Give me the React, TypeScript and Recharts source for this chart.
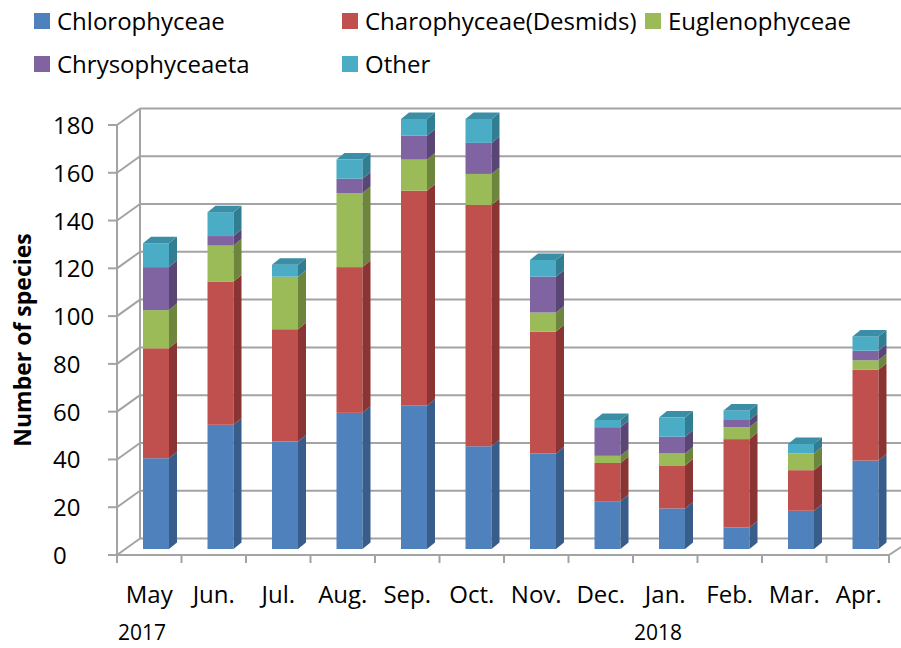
import React from 'react';
import { BarChart, Bar, XAxis, YAxis, CartesianGrid } from 'recharts';

const months = ['May', 'Jun.', 'Jul.', 'Aug.', 'Sep.', 'Oct.', 'Nov.', 'Dec.', 'Jan.', 'Feb.', 'Mar.', 'Apr.'];
const yearLabels = ['2017', '', '', '', '', '', '', '', '2018', '', '', ''];
const chlorophyceae = [38, 52, 45, 57, 60, 43, 40, 20, 17, 9, 16, 37];
const charophyceae = [46, 60, 47, 61, 90, 101, 51, 16, 18, 37, 17, 38];
const euglenophyceae = [16, 15, 22, 31, 13, 13, 8, 3, 5, 5, 7, 4];
const chrysophyceaeta = [18, 4, 0, 6, 10, 13, 15, 12, 7, 3, 0, 4];
const other = [10, 10, 5, 8, 7, 10, 7, 3, 8, 4, 4, 6];
const yTicks = [0, 20, 40, 60, 80, 100, 120, 140, 160, 180];

const series = [
  { key: 'chlorophyceae', name: 'Chlorophyceae', front: '#4f81bd', side: '#385d8a', top: '#6d95c8' },
  { key: 'charophyceae', name: 'Charophyceae(Desmids)', front: '#c0504d', side: '#8a3533', top: '#cf6f6c' },
  { key: 'euglenophyceae', name: 'Euglenophyceae', front: '#9bbb59', side: '#6d853d', top: '#afc97a' },
  { key: 'chrysophyceaeta', name: 'Chrysophyceaeta', front: '#8064a2', side: '#5a4675', top: '#9780b4' },
  { key: 'other', name: 'Other', front: '#4bacc6', side: '#317d91', top: '#3a8fa6' },
];

const data = months.map((m, i) => ({
  month: m,
  year: yearLabels[i],
  chlorophyceae: chlorophyceae[i],
  charophyceae: charophyceae[i],
  euglenophyceae: euglenophyceae[i],
  chrysophyceaeta: chrysophyceaeta[i],
  other: other[i],
}));

const FONT = '"Open Sans", "Noto Sans", sans-serif';
const GRID = '#a3a3a3';
const W = 901;
const H = 648;
const PLOT_LEFT = 124;
const PLOT_RIGHT = 898;
const BAND = (PLOT_RIGHT - PLOT_LEFT) / months.length;
// 3d offsets: front axis plane / back wall relative to the bar plane
const FRONT_DX = 7;
const FRONT_DY = 6;
const BACK_DX = 16;
const BACK_DY = 10.5;
const DEPTH_X = 8;
const DEPTH_Y = 6.5;

const legendPos = [
  { left: 34, top: 13 },
  { left: 342, top: 13 },
  { left: 645, top: 13 },
  { left: 34, top: 56 },
  { left: 342, top: 56 },
];

function makeShape(idx: number) {
  const s = series[idx];
  return (props: any) => {
    const { x, y, width, height, payload } = props;
    if (!height || height <= 0) return <g />;
    const isTop = series.slice(idx + 1).every((o) => !payload[o.key]);
    const r = x + width;
    return (
      <g>
        <rect x={x} y={y} width={width} height={height} fill={s.front} />
        <polygon
          points={`${r},${y} ${r + DEPTH_X},${y - DEPTH_Y} ${r + DEPTH_X},${y + height - DEPTH_Y} ${r},${y + height}`}
          fill={s.side}
        />
        {isTop && (
          <polygon
            points={`${x},${y} ${x + DEPTH_X},${y - DEPTH_Y} ${r + DEPTH_X},${y - DEPTH_Y} ${r},${y}`}
            fill={s.top}
          />
        )}
      </g>
    );
  };
}

const gridLine = (p: any) => {
  const { x1, x2, y1, index, y, height } = p;
  const bottom = y + height;
  return (
    <g key={`g-${index}`}>
      <line x1={x1 + BACK_DX} y1={y1 - BACK_DY} x2={W} y2={y1 - BACK_DY} stroke={GRID} strokeWidth={2} />
      <line x1={x1 - FRONT_DX} y1={y1 + FRONT_DY} x2={x1 + BACK_DX} y2={y1 - BACK_DY} stroke={GRID} strokeWidth={2} />
      <line x1={x1 - FRONT_DX - 9} y1={y1 + FRONT_DY} x2={x1 - FRONT_DX} y2={y1 + FRONT_DY} stroke={GRID} strokeWidth={2} />
      {index === 0 && (
        <g>
          <line x1={x1 + BACK_DX} y1={y - BACK_DY} x2={x1 + BACK_DX} y2={bottom - BACK_DY} stroke={GRID} strokeWidth={2} />
          <line x1={x1 - FRONT_DX} y1={y + FRONT_DY} x2={x1 - FRONT_DX} y2={bottom + FRONT_DY} stroke={GRID} strokeWidth={2} />
          <line x1={x1 - FRONT_DX} y1={bottom + FRONT_DY} x2={x2 - FRONT_DX - 2} y2={bottom + FRONT_DY} stroke={GRID} strokeWidth={2} />
          <line x1={x2 - FRONT_DX - 2} y1={bottom + FRONT_DY} x2={x2 + BACK_DX} y2={bottom - BACK_DY} stroke={GRID} strokeWidth={2} />
        </g>
      )}
    </g>
  );
};

const YTick = (props: any) => {
  const { y, payload } = props;
  return (
    <text x={53} y={y + FRONT_DY + 9} fontSize={24} fontFamily={FONT} fill="#000" textAnchor="start">
      {payload.value}
    </text>
  );
};

const XTick = (props: any) => {
  const { x, payload, index } = props;
  const cx = x - FRONT_DX;
  const left = cx - BAND / 2;
  const year = yearLabels[index];
  return (
    <g>
      <line x1={left} y1={555} x2={left} y2={563} stroke={GRID} strokeWidth={2} />
      {index === months.length - 1 && (
        <line x1={left + BAND - 2} y1={555} x2={left + BAND - 2} y2={563} stroke={GRID} strokeWidth={2} />
      )}
      <text x={cx} y={603} fontSize={24} fontFamily={FONT} fill="#000" textAnchor="middle">
        {payload.value}
      </text>
      {year && (
        <text x={left + 1} y={640} fontSize={21} fontFamily={FONT} fill="#000" textAnchor="start">
          {year}
        </text>
      )}
    </g>
  );
};

export default function App() {
  return (
    <div style={{ position: 'absolute', left: 0, top: 0, width: W, height: H, background: '#fff' }}>
      {series.map((s, i) => (
        <div
          key={s.key}
          style={{
            position: 'absolute',
            left: legendPos[i].left,
            top: legendPos[i].top,
            display: 'flex',
            alignItems: 'center',
            fontFamily: FONT,
            fontSize: 24,
            lineHeight: '16px',
            color: '#000',
            whiteSpace: 'nowrap',
          }}
        >
          <span style={{ display: 'inline-block', width: 16, height: 16, background: s.front, marginRight: 7 }} />
          {s.name}
        </div>
      ))}
      <div
        style={{
          position: 'absolute',
          left: 22,
          top: 340,
          transform: 'translate(-50%, -50%) rotate(-90deg)',
          fontFamily: FONT,
          fontSize: 23,
          fontWeight: 700,
          whiteSpace: 'nowrap',
          color: '#000',
        }}
      >
        Number of species
      </div>
      <BarChart
        width={W}
        height={H}
        data={data}
        margin={{ top: 119, right: W - PLOT_RIGHT, bottom: 0, left: 0 }}
        style={{ position: 'absolute', left: 0, top: 0 }}
      >
        <CartesianGrid horizontal={gridLine} vertical={false} />
        <XAxis
          dataKey="month"
          height={99}
          axisLine={false}
          tickLine={false}
          interval={0}
          tick={<XTick />}
        />
        <YAxis
          width={PLOT_LEFT}
          domain={[0, 180]}
          ticks={yTicks}
          axisLine={false}
          tickLine={false}
          tick={<YTick />}
        />
        {series.map((s, i) => (
          <Bar
            key={s.key}
            dataKey={s.key}
            name={s.name}
            stackId="a"
            fill={s.front}
            barSize={26}
            shape={makeShape(i)}
            isAnimationActive={false}
          />
        ))}
      </BarChart>
    </div>
  );
}
